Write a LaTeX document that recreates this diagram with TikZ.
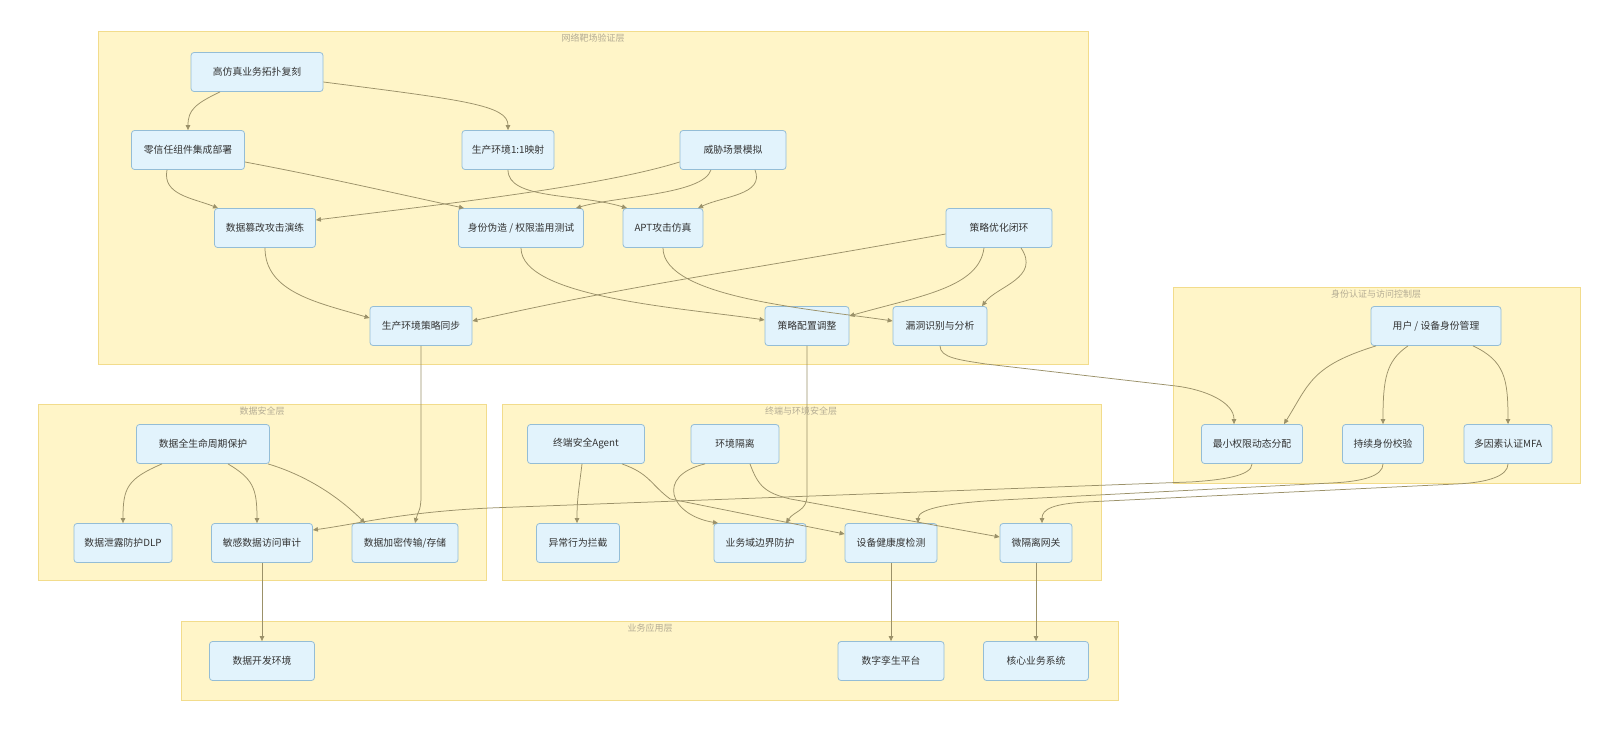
\documentclass[tikz,border=0pt]{standalone}
\usepackage{fontspec}
\setmainfont{Noto Sans CJK SC}
\usetikzlibrary{arrows.meta}
\definecolor{layerfill}{HTML}{FFF5C8}
\definecolor{layerline}{HTML}{F2DC8C}
\definecolor{nodefill}{HTML}{E2F3FC}
\definecolor{nodeline}{HTML}{94BDD6}
\definecolor{nodetext}{HTML}{333333}
\definecolor{edgecol}{HTML}{9B9169}
\definecolor{titletext}{HTML}{B4AC94}
\begin{document}
\begin{tikzpicture}[x=1pt,y=-1pt,
  box/.style={draw=nodeline, fill=nodefill, rounded corners=3pt, line width=0.8pt,
    minimum height=39pt, inner sep=0pt, font=\fontsize{9.8pt}{12pt}\selectfont, text=nodetext},
  layer/.style={draw=layerline, fill=layerfill, line width=0.8pt},
  ltitle/.style={font=\fontsize{9pt}{11pt}\selectfont, text=titletext, anchor=north, inner sep=1pt},
  edge/.style={draw=edgecol, line width=0.75pt, -{Triangle[length=5pt,width=4.5pt]}},
]
\useasboundingbox[fill=white] (0,0) rectangle (1617,738);
% layers
\draw[layer] (98,31) rectangle (1088,364);
\draw[layer] (1173,287) rectangle (1580,483);
\draw[layer] (38,404) rectangle (486,580);
\draw[layer] (502,404) rectangle (1101,580);
\draw[layer] (181,621) rectangle (1118,700);
\node[ltitle] (t1) at (593,33) {网络靶场验证层};
\node[ltitle] (t2) at (1376,289) {身份认证与访问控制层};
\node[ltitle] (t3) at (262,406) {数据安全层};
\node[ltitle] (t4) at (801,406) {终端与环境安全层};
\node[ltitle] (t5) at (650,623) {业务应用层};
% top layer nodes
\node[box, minimum width=132pt] (A) at (257,72) {高仿真业务拓扑复刻};
\node[box, minimum width=113pt] (B) at (188,150) {零信任组件集成部署};
\node[box, minimum width=92pt]  (C) at (508,150) {生产环境1:1映射};
\node[box, minimum width=106pt] (D) at (733,150) {威胁场景模拟};
\node[box, minimum width=101pt] (E) at (265,228) {数据篡改攻击演练};
\node[box, minimum width=125pt] (F) at (521,228) {身份伪造 / 权限滥用测试};
\node[box, minimum width=80pt]  (G) at (663,228) {APT攻击仿真};
\node[box, minimum width=106pt] (H) at (999,228) {策略优化闭环};
\node[box, minimum width=102pt] (I) at (421,326) {生产环境策略同步};
\node[box, minimum width=84pt]  (J) at (807,326) {策略配置调整};
\node[box, minimum width=94pt]  (K) at (940,326) {漏洞识别与分析};
% identity layer
\node[box, minimum width=130pt] (L) at (1436,326) {用户 / 设备身份管理};
\node[box, minimum width=101pt] (M) at (1252,444) {最小权限动态分配};
\node[box, minimum width=81pt]  (N) at (1383,444) {持续身份校验};
\node[box, minimum width=88pt]  (O) at (1508,444) {多因素认证MFA};
% data layer
\node[box, minimum width=133pt] (P) at (203,444) {数据全生命周期保护};
\node[box, minimum width=98pt]  (Q) at (123,543) {数据泄露防护DLP};
\node[box, minimum width=101pt] (R) at (262,543) {敏感数据访问审计};
\node[box, minimum width=106pt] (S) at (405,543) {数据加密传输/存储};
% terminal layer
\node[box, minimum width=117pt] (T) at (586,444) {终端安全Agent};
\node[box, minimum width=88pt]  (U) at (735,444) {环境隔离};
\node[box, minimum width=83pt]  (V) at (578,543) {异常行为拦截};
\node[box, minimum width=92pt]  (W) at (760,543) {业务域边界防护};
\node[box, minimum width=92pt]  (X) at (891,543) {设备健康度检测};
\node[box, minimum width=72pt]  (Y) at (1036,543) {微隔离网关};
% business layer
\node[box, minimum width=105pt] (Z1) at (262,661) {数据开发环境};
\node[box, minimum width=106pt] (Z2) at (891,661) {数字孪生平台};
\node[box, minimum width=105pt] (Z3) at (1036,661) {核心业务系统};
% top edges
\draw[edge] ([xshift=-37pt]A.south) .. controls +(-25,12) and +(0,-20) .. (B.north);
\draw[edge] ([yshift=-10pt]A.east) .. controls +(140,18) and +(0,-25) .. (C.north);
\draw[edge] ([xshift=-21pt]B.south) .. controls +(-5,25) and +(-25,-10) .. ([xshift=-47pt]E.north);
\draw[edge] ([yshift=-12pt]B.east) .. controls +(80,15) and +(-70,-15) .. ([xshift=-57pt]F.north);
\draw[edge] (C.south) .. controls +(0,30) and +(-50,-15) .. ([xshift=-36pt]G.north);
\draw[edge] ([yshift=-12pt]D.west) .. controls +(-80,25) and +(120,-15) .. ([yshift=8pt]E.east);
\draw[edge] ([xshift=-22pt]D.south) .. controls +(-8,25) and +(40,-12) .. ([xshift=55pt]F.north);
\draw[edge] ([xshift=22pt]D.south) .. controls +(10,25) and +(25,-12) .. ([xshift=35pt]G.north);
\draw[edge] (E.south) .. controls +(0,45) and +(-50,-15) .. ([yshift=8pt]I.west);
\draw[edge] (F.south) .. controls +(0,50) and +(-80,-12) .. ([yshift=6pt]J.west);
\draw[edge] (G.south) .. controls +(0,50) and +(-80,-12) .. ([yshift=5pt]K.west);
\draw[edge] ([yshift=-6pt]H.west) .. controls +(-220,40) and +(180,-40) .. ([yshift=5pt]I.east);
\draw[edge] ([xshift=-15pt]H.south) .. controls +(-5,40) and +(70,-20) .. ([yshift=10pt]J.east);
\draw[edge] ([xshift=22pt]H.south) .. controls +(20,30) and +(15,-20) .. ([xshift=42pt]K.north);
% cross edges
\draw[edge] (K.south) .. controls +(0,12) and +(-25,-4) .. ++(45,18) -- ++(190,22)
  .. controls +(30,3.5) and +(0,-22) .. ([xshift=-18pt]M.north);
\draw[edge] (I.south) -- ++(0,150) .. controls +(0,15) and +(3,-12) .. ([xshift=10pt]S.north);
\draw[edge] (J.south) -- ++(0,150) .. controls +(0,15) and +(8,-12) .. ([xshift=26pt]W.north);
% identity edges
\draw[edge] ([xshift=-60pt]L.south) .. controls +(-65,20) and +(25,-40) .. ([xshift=32pt]M.north);
\draw[edge] ([xshift=-28pt]L.south) .. controls +(-22,15) and +(0,-45) .. (N.north);
\draw[edge] ([xshift=37pt]L.south) .. controls +(32,15) and +(0,-45) .. (O.north);
\draw[edge] (M.south) .. controls +(0,12) and +(30,-2) .. ++(-60,18) -- ++(-700,26)
  .. controls +(-90,4) and +(45,-6) .. ([yshift=13pt]R.east);
\draw[edge] (N.south) .. controls +(0,12) and +(30,-1.5) .. ++(-50,19) -- ++(-330,17)
  .. controls +(-50,2.6) and +(0,-15) .. ([xshift=27pt]X.north);
\draw[edge] (O.south) .. controls +(0,12) and +(30,-1.5) .. ++(-50,20) -- ++(-370,18)
  .. controls +(-35,1.7) and +(0,-14) .. ([xshift=6pt]Y.north);
% data edges
\draw[edge] ([xshift=-41pt]P.south) .. controls +(-35,15) and +(0,-35) .. (Q.north);
\draw[edge] ([xshift=25pt]P.south) .. controls +(25,15) and +(0,-35) .. ([xshift=-5pt]R.north);
\draw[edge] ([xshift=65pt]P.south) .. controls +(40,12) and +(-25,-25) .. ([xshift=-40pt]S.north);
% terminal edges
\draw[edge] ([xshift=-4pt]T.south) .. controls +(-3,25) and +(0,-25) .. ([xshift=-1pt]V.north);
\draw[edge] ([xshift=36pt]T.south) .. controls +(28,10) and +(-20,-15) .. ++(48,35) -- ([yshift=9pt]X.west);
\draw[edge] ([xshift=-30pt]U.south) .. controls +(-50,12) and +(-48,-8) .. ([xshift=-42pt]W.north);
\draw[edge] ([xshift=15pt]U.south) .. controls +(8,22) and +(-25,-6) .. ++(40,35) -- ([yshift=6pt]Y.west);
% to business
\draw[edge] (R.south) -- (Z1.north);
\draw[edge] (X.south) -- (Z2.north);
\draw[edge] (Y.south) -- (Z3.north);
\end{tikzpicture}
\end{document}
